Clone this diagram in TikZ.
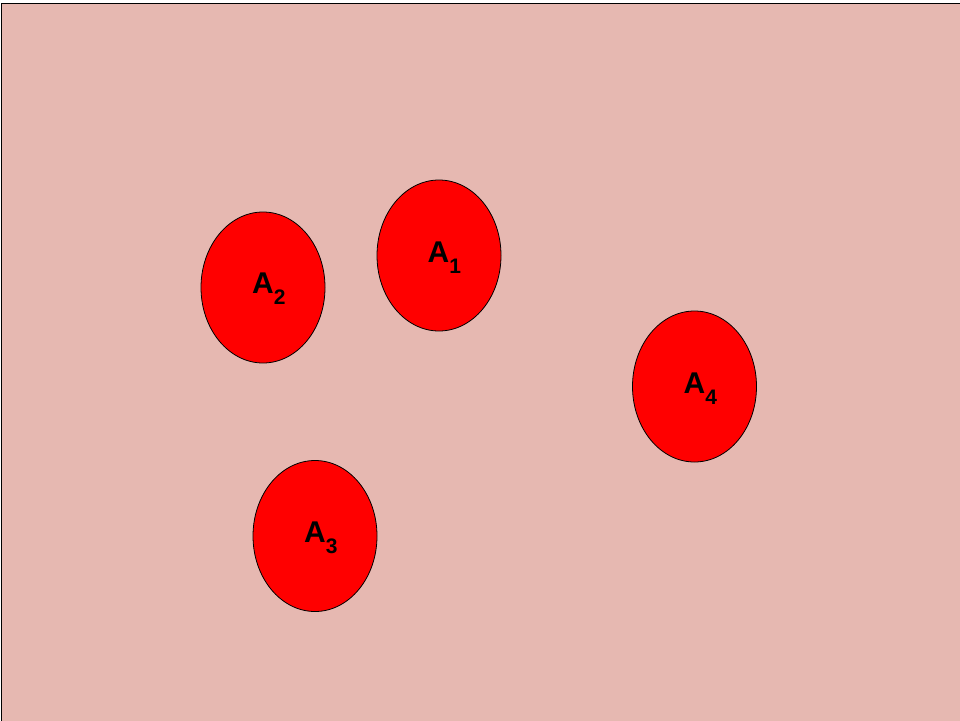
\documentclass[tikz,border=0pt]{standalone}
\usepackage{fontspec}
\setmainfont{Liberation Sans}
\usetikzlibrary{shapes.geometric}
\definecolor{bgpink}{HTML}{E6B8B1}
\definecolor{cellred}{HTML}{FF0000}
\begin{document}
\begin{tikzpicture}[x=1pt,y=-1pt,
  cell/.style={ellipse,draw=black,line width=0.8pt,fill=cellred,minimum width=124pt,minimum height=151pt,inner sep=0pt},
  lbl/.style={anchor=base west,inner sep=0pt,font=\bfseries\fontsize{30}{34}\selectfont}]
\useasboundingbox (0,0) rectangle (960,720);
\fill[white] (0,0) rectangle (960,720);
\begin{scope}
\clip (0,0) rectangle (960,720);
\draw[fill=bgpink,line width=1pt] (1,3) rectangle (990,750);
\end{scope}
\node[cell] (a1) at (439,255.5) {};
\node[cell] (a2) at (263,287.5) {};
\node[cell] (a3) at (315,536) {};
\node[cell] (a4) at (694.5,386.5) {};
\node[lbl] (l1) at (427.5,262) {A\raisebox{-11pt}{\fontsize{21}{24}\selectfont 1}};
\node[lbl] (l2) at (252,293) {A\raisebox{-11pt}{\fontsize{21}{24}\selectfont 2}};
\node[lbl] (l3) at (304,542) {A\raisebox{-11pt}{\fontsize{21}{24}\selectfont 3}};
\node[lbl] (l4) at (683.5,393) {A\raisebox{-11pt}{\fontsize{21}{24}\selectfont 4}};
\end{tikzpicture}
\end{document}
